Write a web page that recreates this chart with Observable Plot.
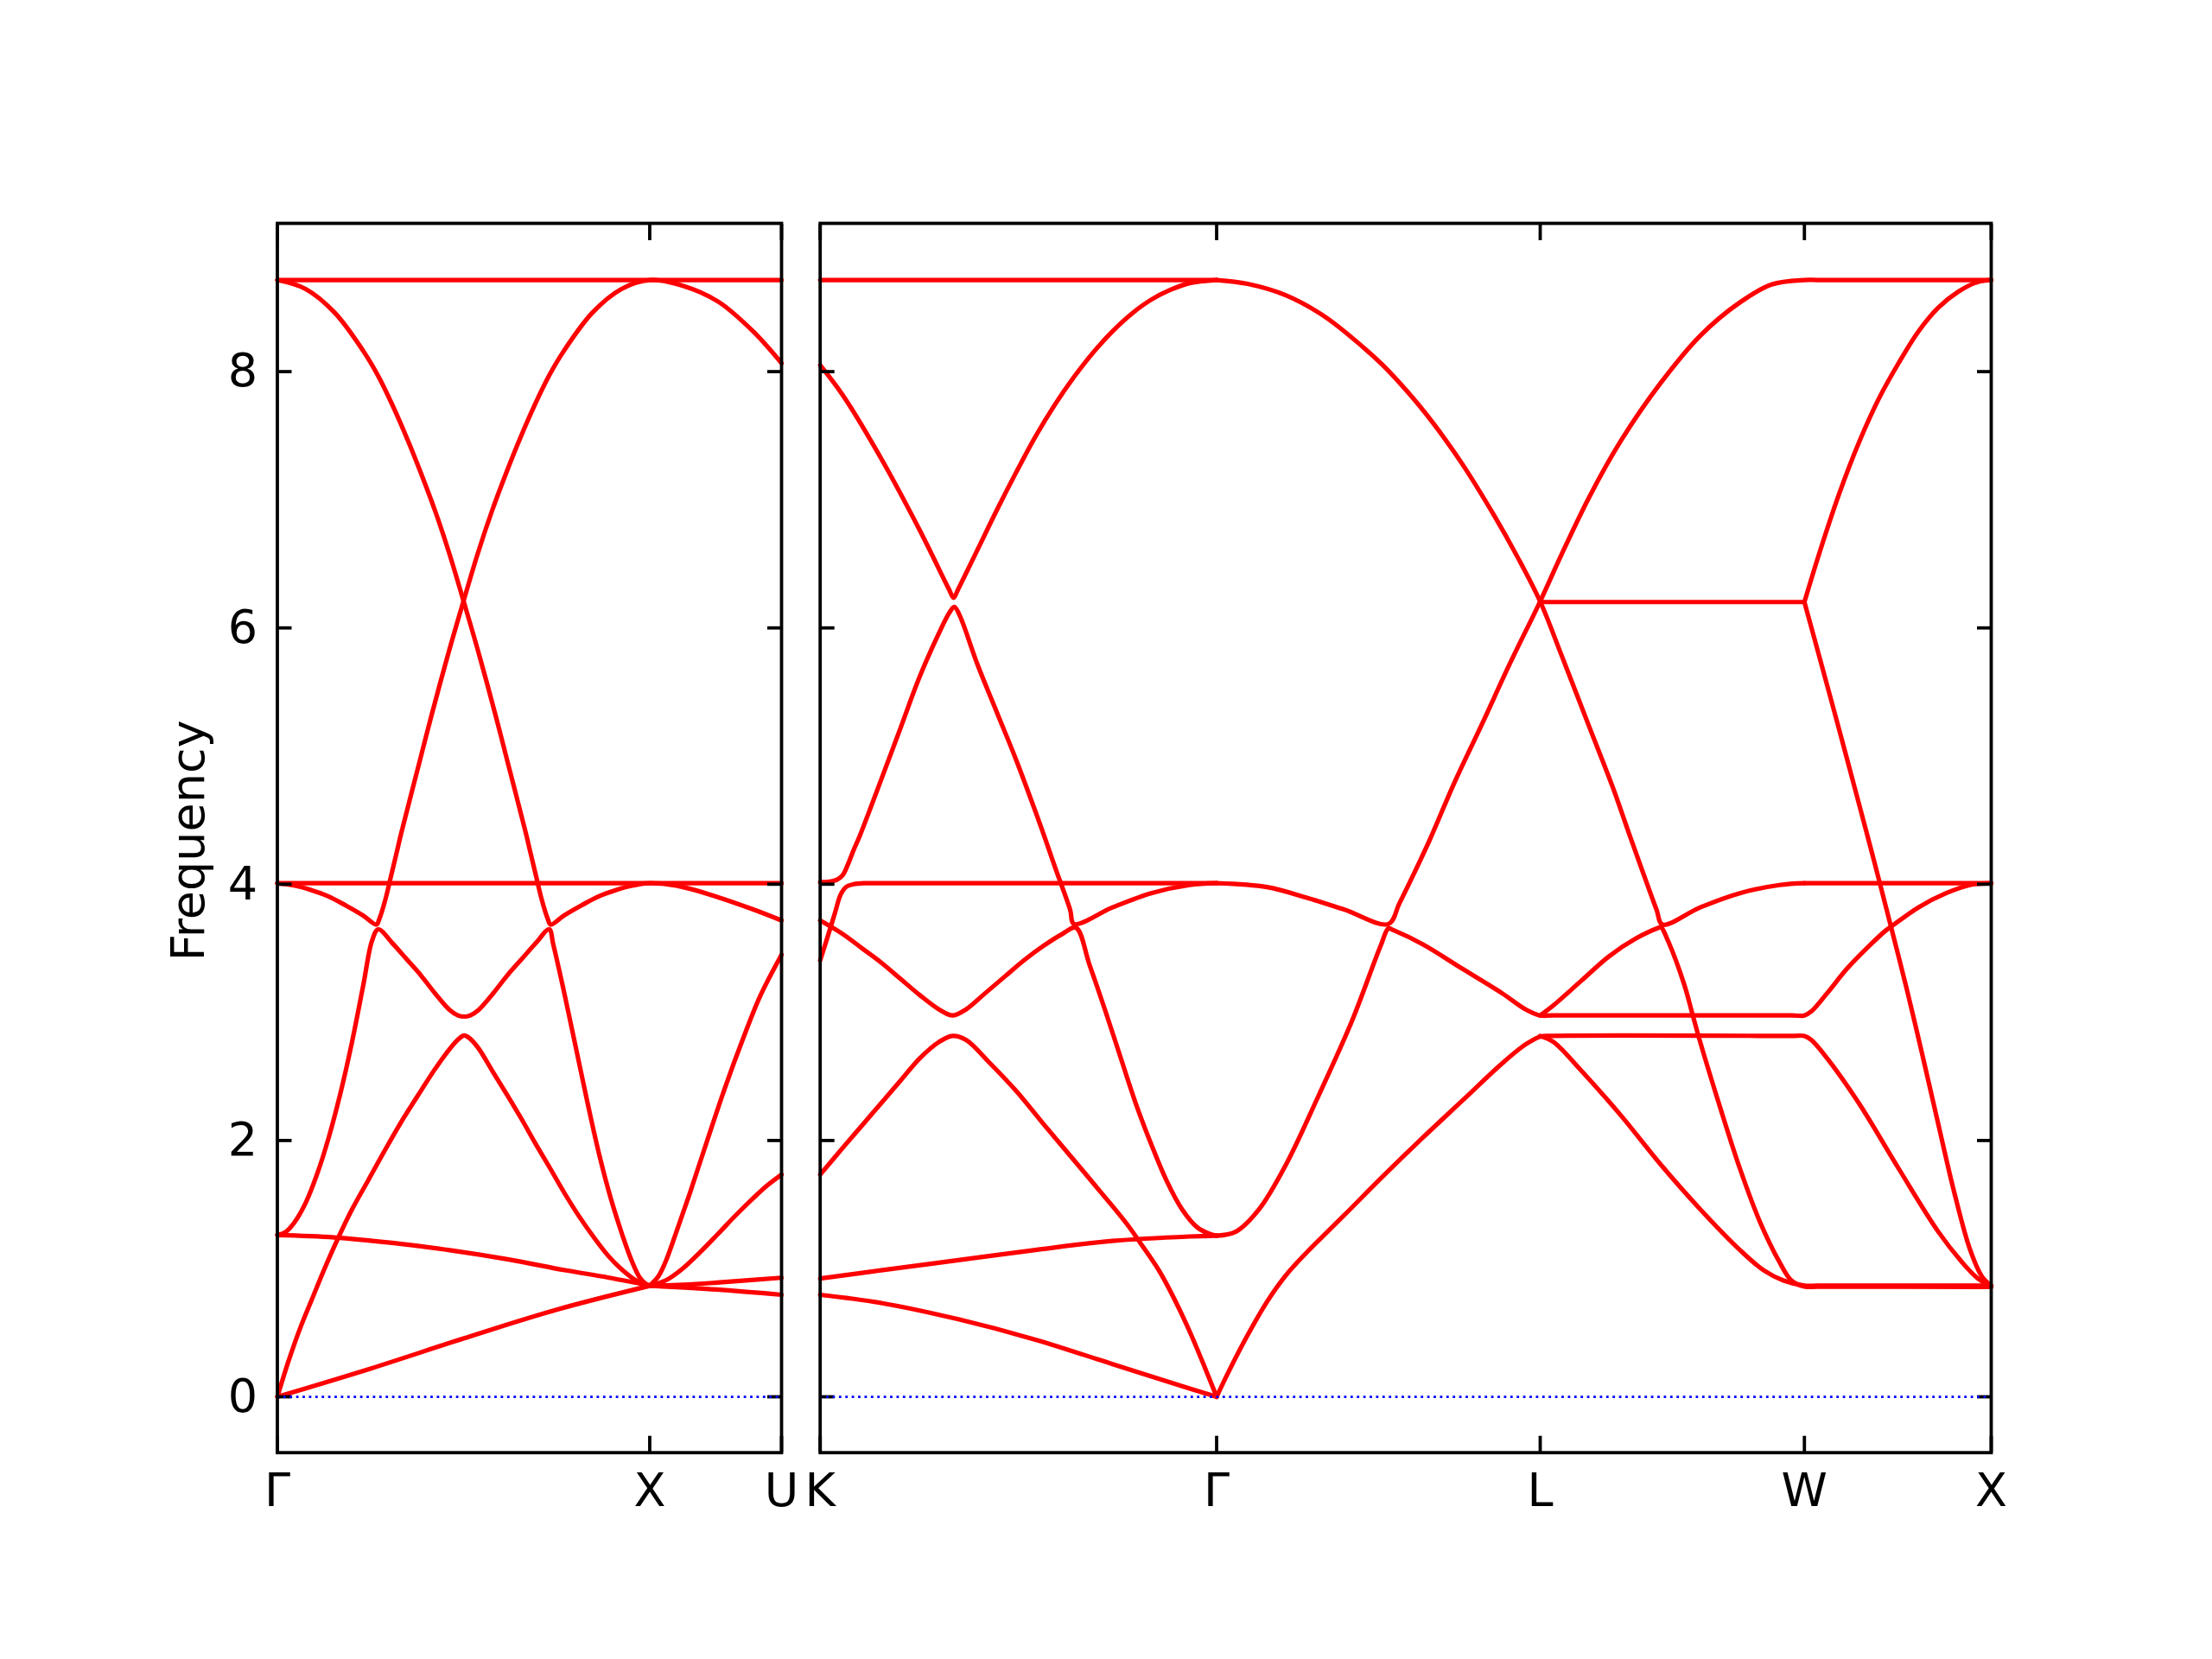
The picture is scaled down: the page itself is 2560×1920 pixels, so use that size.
<!DOCTYPE html>
<html>
<head>
<meta charset="utf-8">
<script src="https://cdn.jsdelivr.net/npm/d3@7"></script>
<script src="https://cdn.jsdelivr.net/npm/@observablehq/plot@0.6"></script>
<style>
html, body { margin: 0; padding: 0; background: #ffffff; }
#chart { position: relative; width: 2560px; height: 1920px; background: #ffffff; }
#chart svg { position: absolute; top: 0; max-width: none; }
</style>
</head>
<body>
<div id="chart"></div>
<script>
// ---------- axes / labels ----------
const yTicks = [0, 2, 4, 6, 8];
const yDomain = [-0.436, 9.157];
const yLabel = "Frequency";
const leftTicks = [0, 1, 1.354];
const leftLabels = ["Γ", "X", "U"];
const rightTicks = [0, 1.061, 1.927, 2.634, 3.134];
const rightLabels = ["K", "Γ", "L", "W", "X"];

// ---------- left panel: Γ – X – U  (x = path distance, y = frequency) ----------
const gx_flat_top = [[0,8.715],[1.354,8.715]];
const gx_flat_mid = [[0,4.008],[1.354,4.008]];
const gx_band_a = [[0,4.008],[0.045,3.99],[0.09,3.955],[0.137,3.905],[0.183,3.835],[0.23,3.756],[0.266,3.685],
  [0.274,3.73],[0.29,3.88],[0.305,4.06],[0.321,4.255],[0.332,4.39],[0.382,4.957],[0.413,5.307],[0.46,5.81],
  [0.498,6.19],[0.537,6.57],[0.576,6.91],[0.614,7.205],[0.653,7.487],[0.692,7.745],[0.73,7.97],[0.769,8.16],
  [0.846,8.46],[0.924,8.645],[1.0,8.715],[1.089,8.67],[1.184,8.546],[1.278,8.313],[1.354,8.066]];
const gx_band_b = [[0,1.262],[0.022,1.286],[0.045,1.357],[0.076,1.513],[0.107,1.74],[0.138,2.024],[0.169,2.365],
  [0.2,2.762],[0.231,3.216],[0.254,3.557],[0.271,3.648],[0.308,3.543],[0.347,3.415],[0.386,3.287],[0.424,3.146],
  [0.463,3.018],[0.486,2.975],[0.502,2.967],[0.517,2.975],[0.54,3.018],[0.579,3.146],[0.617,3.287],[0.656,3.415],
  [0.695,3.543],[0.73,3.648],[0.741,3.529],[0.772,3.131],[0.803,2.706],[0.834,2.28],[0.865,1.882],[0.896,1.542],
  [0.927,1.258],[0.95,1.073],[0.973,0.931],[0.989,0.883],[1.0,0.868]];
const gx_band_c = [[0,8.715],[0.076,8.645],[0.154,8.46],[0.231,8.16],[0.27,7.97],[0.308,7.745],[0.347,7.487],
  [0.386,7.205],[0.424,6.91],[0.463,6.57],[0.502,6.19],[0.54,5.81],[0.587,5.307],[0.618,4.957],[0.668,4.39],
  [0.679,4.255],[0.695,4.06],[0.71,3.88],[0.726,3.73],[0.734,3.685],[0.77,3.756],[0.817,3.835],[0.863,3.905],
  [0.91,3.955],[0.955,3.99],[1.0,4.008],[1.089,3.978],[1.184,3.898],[1.278,3.803],[1.354,3.717]];
const gx_peak = [[0,0],[0.03,0.279],[0.061,0.534],[0.092,0.755],[0.123,0.975],[0.157,1.2],[0.2,1.46],[0.246,1.7],
  [0.293,1.945],[0.339,2.175],[0.386,2.39],[0.424,2.56],[0.463,2.715],[0.486,2.79],[0.502,2.819],[0.517,2.796],
  [0.54,2.72],[0.579,2.535],[0.618,2.351],[0.656,2.166],[0.695,1.967],[0.734,1.775],[0.772,1.585],[0.811,1.405],
  [0.85,1.244],[0.888,1.102],[0.927,0.988],[0.966,0.903],[1.0,0.868]];
const gx_low = [[0,1.262],[0.153,1.244],[0.308,1.201],[0.463,1.144],[0.618,1.073],[0.772,0.988],[0.888,0.931],[1.0,0.868]];
const gx_acoustic = [[0,0],[0.25,0.22],[0.5,0.455],[0.75,0.68],[1.0,0.866]];
const xu_steep = [[1.0,0.868],[1.023,0.939],[1.042,1.05],[1.07,1.273],[1.108,1.591],[1.155,2.005],[1.203,2.419],
  [1.25,2.79],[1.297,3.13],[1.354,3.45]];
const xu_mid = [[1.0,0.868],[1.042,0.907],[1.089,1.002],[1.136,1.13],[1.184,1.273],[1.231,1.416],[1.278,1.55],
  [1.316,1.65],[1.354,1.734]];
const xu_up = [[1.0,0.868],[1.09,0.875],[1.18,0.891],[1.354,0.929]];
const xu_down = [[1.0,0.866],[1.18,0.837],[1.354,0.796]];

// ---------- right panel: K – Γ – L – W – X  (x = path distance from K) ----------
const kg_flat_top = [[0,8.715],[1.061,8.715]];
const kg_v = [[0,8.05],[0.06,7.818],[0.163,7.323],[0.266,6.765],[0.345,6.3],[0.357,6.235],[0.369,6.3],[0.4212,6.611],
  [0.4729,6.92],[0.5245,7.214],[0.5761,7.493],[0.6277,7.74],[0.6793,7.958],[0.7309,8.15],[0.7825,8.315],
  [0.8341,8.453],[0.8857,8.561],[0.9373,8.638],[0.9889,8.691],[1.061,8.715]];
const kg_a = [[0,4.016],[0.025,4.02],[0.045,4.035],[0.06,4.07],[0.075,4.16],[0.09,4.27],[0.1064,4.38],[0.1632,4.815],
  [0.2148,5.217],[0.2664,5.62],[0.318,5.96],[0.345,6.115],[0.359,6.165],[0.373,6.1],[0.4212,5.713],[0.4729,5.341],
  [0.5245,4.97],[0.5761,4.567],[0.6019,4.357],[0.6277,4.14],[0.669,3.8],[0.6793,3.69],[0.7825,3.819],[0.8857,3.93],
  [0.9889,3.994],[1.061,4.008]];
const kg_b = [[0,3.405],[0.02,3.59],[0.04,3.78],[0.055,3.92],[0.07,3.98],[0.09,4.0],[0.12,4.008],[0.16,4.008],
  [1.02,4.008],[1.061,4.008]];
const kg_w = [[0,3.717],[0.06,3.612],[0.1116,3.501],[0.1632,3.389],[0.2148,3.262],[0.2664,3.135],[0.318,3.023],
  [0.3541,2.976],[0.3903,3.023],[0.4419,3.15],[0.4935,3.278],[0.5451,3.405],[0.5967,3.517],[0.6483,3.612],
  [0.6845,3.66],[0.7206,3.373],[0.7619,3.023],[0.8032,2.655],[0.8444,2.291],[0.8857,1.973],[0.927,1.687],
  [0.9683,1.464],[1.0096,1.321],[1.0406,1.273],[1.061,1.257]];
const kg_peak = [[0,1.734],[0.06,1.941],[0.1116,2.116],[0.1632,2.291],[0.2148,2.466],[0.2664,2.641],[0.318,2.769],
  [0.3541,2.816],[0.3903,2.785],[0.4522,2.61],[0.5245,2.387],[0.5967,2.132],[0.6793,1.846],[0.7619,1.559],
  [0.8238,1.337],[0.8548,1.209],[0.9064,0.987],[0.9477,0.764],[0.9889,0.509],[1.0302,0.223],[1.061,0]];
const kg_low = [[0,0.923],[0.1632,0.987],[0.3696,1.066],[0.5761,1.146],[0.7825,1.216],[0.9889,1.251],[1.061,1.257]];
const kg_acoustic = [[0,0.796],[0.1632,0.732],[0.3696,0.605],[0.5761,0.446],[0.7825,0.255],[0.9889,0.064],[1.061,0]];
const gw_top_down = [[1.061,8.715],[1.1438,8.685],[1.247,8.595],[1.3502,8.43],[1.4535,8.19],[1.5059,8.05],
  [1.5696,7.85],[1.6333,7.625],[1.7182,7.28],[1.8031,6.88],[1.8668,6.55],[1.927,6.205],[1.9836,5.79],
  [2.058,5.23],[2.1216,4.753],[2.1665,4.38],[2.196,4.14],[2.2384,3.8],[2.2543,3.685],[2.3552,3.819],
  [2.4613,3.93],[2.5675,3.994],[2.634,4.008]];
const gx_mid_up = [[1.061,4.008],[1.1954,3.978],[1.2986,3.898],[1.4018,3.803],[1.521,3.69],[1.55,3.85],[1.6,4.15],
  [1.633,4.357],[1.697,4.79],[1.7713,5.25],[1.8456,5.72],[1.927,6.208],[1.9836,6.57],[2.058,7.02],[2.1428,7.46],
  [2.249,7.91],[2.3551,8.28],[2.4613,8.54],[2.5462,8.68],[2.634,8.715],[2.67,8.715],[3.1,8.715],[3.134,8.715]];
const gx_low_mid = [[1.061,1.257],[1.1128,1.289],[1.1748,1.464],[1.247,1.814],[1.3296,2.323],[1.4225,2.928],
  [1.5,3.52],[1.521,3.655],[1.535,3.64],[1.6121,3.532],[1.7182,3.341],[1.8244,3.15],[1.888,3.023],[1.927,2.976],
  [1.96,2.976],[2.6,2.976],[2.634,2.976],[2.6524,3.007],[2.695,3.15],[2.748,3.341],[2.801,3.501],[2.854,3.644],
  [2.8647,3.666],[2.939,3.819],[3.0133,3.93],[3.0771,3.994],[3.134,4.008]];
const gx_acoustic2 = [[1.061,0],[1.0922,0.19],[1.1438,0.48],[1.1954,0.74],[1.247,0.95],[1.3,1.12],[1.4,1.41],
  [1.5059,1.72],[1.612,2.02],[1.7182,2.31],[1.8244,2.6],[1.888,2.75],[1.927,2.81],[1.96,2.816],[2.6,2.816],
  [2.634,2.816],[2.6524,2.785],[2.695,2.641],[2.7798,2.291],[2.886,1.782],[2.9921,1.289],[3.0558,1.05],
  [3.0983,0.923],[3.134,0.866]];
const lw_down = [[1.927,2.816],[1.9624,2.769],[2.0367,2.546],[2.1428,2.196],[2.249,1.814],[2.3551,1.464],
  [2.4613,1.146],[2.525,0.987],[2.5781,0.907],[2.634,0.868],[2.67,0.868],[3.1,0.868],[3.134,0.868]];
const lw_up = [[1.927,2.976],[1.9624,3.055],[2.0367,3.246],[2.111,3.437],[2.1853,3.58],[2.2437,3.66],[2.25,3.665],
  [2.2702,3.55],[2.3127,3.214],[2.334,2.991],[2.3551,2.769],[2.4083,2.26],[2.4613,1.782],[2.5144,1.369],
  [2.5675,1.05],[2.5993,0.907],[2.634,0.86],[2.67,0.859],[3.1,0.858],[3.134,0.858]];
const lw_flat6 = [[1.927,6.202],[2.634,6.202]];
const wx_rise = [[2.634,6.202],[2.6736,6.58],[2.7267,7.044],[2.7798,7.446],[2.8329,7.787],[2.886,8.066],
  [2.939,8.313],[2.9921,8.499],[3.0452,8.623],[3.0983,8.7],[3.134,8.715]];
const wx_steep = [[2.634,6.202],[2.6736,5.78],[2.7267,5.21],[2.7798,4.63],[2.8116,4.28],[2.833,4.04],[2.859,3.745],
  [2.9072,3.19],[2.9496,2.67],[2.9921,2.13],[3.0346,1.6],[3.0771,1.15],[3.1089,0.94],[3.134,0.866]];
const wx_flat4 = [[2.634,4.008],[3.134,4.008]];

// ---------- build tables ----------
const leftSegments = {gx_flat_top, gx_flat_mid, gx_band_a, gx_band_b, gx_band_c, gx_peak, gx_low, gx_acoustic,
  xu_steep, xu_mid, xu_up, xu_down};
const rightSegments = {kg_flat_top, kg_v, kg_a, kg_b, kg_w, kg_peak, kg_low, kg_acoustic, gw_top_down, gx_mid_up,
  gx_low_mid, gx_acoustic2, lw_down, lw_up, lw_flat6, wx_rise, wx_steep, wx_flat4};

function rows(segs) {
  return Object.entries(segs).flatMap(([seg, pts]) => pts.map(([x, y]) => ({seg, x, y})));
}

function panel({segs, ticks, labels, width, marginLeft, marginRight, showY}) {
  const data = rows(segs);
  return Plot.plot({
    width, height: 1920,
    marginTop: 258, marginBottom: 239.3, marginLeft, marginRight,
    style: {fontFamily: "'DejaVu Sans', sans-serif", fontSize: "54px", background: "transparent", color: "black", overflow: "visible"},
    x: {domain: [ticks[0], ticks[ticks.length - 1]], label: null},
    y: {domain: yDomain, label: null},
    marks: [
      Plot.line(data, {x: "x", y: "y", z: "seg", stroke: "#ff0000", strokeWidth: 5.2, curve: "catmull-rom"}),
      Plot.axisY({anchor: "left", ticks: yTicks, tickSize: -17, strokeWidth: 3.8, fill: "none", label: null}),
      Plot.axisY({anchor: "right", ticks: yTicks, tickSize: -17, strokeWidth: 3.8, fill: "none", label: null}),
      Plot.axisX({anchor: "bottom", ticks, tickSize: -19, strokeWidth: 3.8, fill: "none", label: null}),
      Plot.axisX({anchor: "top", ticks, tickSize: -19, strokeWidth: 3.8, fill: "none", label: null}),
      Plot.ruleY([0], {stroke: "#0000ff", strokeWidth: 2.8, strokeDasharray: "2.8 4.6"}),
      Plot.axisX({anchor: "bottom", ticks, tickSize: 0, tickPadding: 23, label: null,
        tickFormat: (d) => labels[ticks.indexOf(d)]}),
      showY ? Plot.axisY({anchor: "left", ticks: yTicks, tickSize: 0, tickPadding: 23, label: null,
        tickFormat: (d) => String(d)}) : null,
      showY ? Plot.text([yLabel], {frameAnchor: "left", rotate: -90, dx: -85.5, dy: 3, text: (d) => d,
        textAnchor: "middle", lineAnchor: "bottom"}) : null,
      Plot.frame({stroke: "black", strokeWidth: 3.8})
    ]
  });
}

const chart = document.getElementById("chart");
const left = panel({segs: leftSegments, ticks: leftTicks, labels: leftLabels, width: 930, marginLeft: 320.5, marginRight: 26, showY: true});
left.style.left = "0px";
chart.appendChild(left);
const right = panel({segs: rightSegments, ticks: rightTicks, labels: rightLabels, width: 1630, marginLeft: 18.7, marginRight: 256, showY: false});
right.style.left = "930px";
chart.appendChild(right);
</script>
</body>
</html>
